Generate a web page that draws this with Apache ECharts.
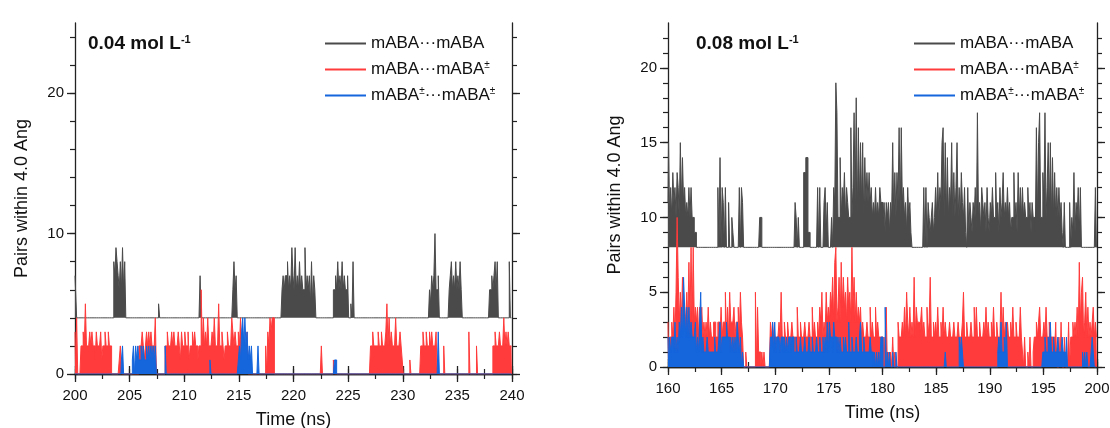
<!DOCTYPE html>
<html lang="en">
<head>
<meta charset="UTF-8">
<title>Pairs within 4.0 Ang</title>
<script src="https://cdn.jsdelivr.net/npm/echarts@6.0.0/dist/echarts.min.js"></script>
<style>
  html, body { margin: 0; background: #fff; }
  #chart { width: 1110px; height: 428px; }
</style>
</head>
<body>
<div id="chart"></div>
<script>
// frames every 0.1 ns, one character per frame, read as base 36 (a = 10, b = 11 ...)
// each string below is one nanosecond, the last one is the closing frame
const step = 0.1;

// ---- left panel, 0.04 mol/L, 200-240 ns (mABA...mABA shown shifted up by 4)
const startA = 200;
const baseA = [4, 0, 0];
const blackA = [
  "7644444444","4444444444","4444444444","4444448798","7686968444",
  "4444444444","4444444444","4444444544","4444444444","4444444444",
  "4444444444","4444474444","4444444444","4444444444","4444468674",
  "4444444444","4444444444","4444444444","4444444444","6767786769",
  "7696768676","6967675857","6444444444","4444444667","6867686766",
  "7445484444","4444444444","4444444444","4444444444","4444444444",
  "4444444444","4444444444","4444465767","a667444444","4446786768",
  "6768644444","4444444444","4444444444","6676786844","4444444484","4"
];
const redA = [
  "3040002232","5222323221","3222312232","2322000000","0120000000",
  "0000000002","2232123232","3222400000","0002232223","2322232132",
  "2322312232","3221226242","3242223242","2252232122","3222432322",
  "3242322230","0000000000","0000020324","3440000000","0000000000",
  "0000000000","0000000000","0000002000","0000000100","0000000000",
  "0000000000","0000000000","0223222232","2322235242","3222422232",
  "1000000100","0000000223","2232232322","2300000020","0000000000",
  "0000000000","0300000020","0000000000","0002232223","2224232322","2"
];
const blueA = [
  "0000000000","0000000000","0000000000","0000000000","0001200000",
  "0001202121","1212112121","2121200000","0002000000","0000000000",
  "0000000000","0000000000","0000100000","0000000000","0000000000",
  "1213424231","2120000020","0000000000","0000000000","0000000000",
  "0000000000","0000000000","0000000000","0000000011","0000000000",
  "0000000000","0000000000","0000000000","0000000000","0000000000",
  "0000000000","0000000000","0000000000","0003000000","0000000000",
  "0000000000","0000000000","0000000000","0000000000","0000000000","0"
];

// ---- right panel, 0.08 mol/L, 160-200 ns (mABA...mABA shown shifted up by 8)
const startB = 160;
const baseB = [8, 0, 0];
const blackB = [
  "bfacadbcad","cafbebcaba","cacaa99888","8888888888","8888888c8e",
  "8cb8c88b88","a988888c8c","b888888888","888888aa88","8888888888",
  "8888888888","888888888b","a8a8888dde","e998888888","c8c888bc9b",
  "888a8cbjha","aeacbdacba","agachbiagb","fbfaebdbdb","cabacabacb",
  "bab9bab9ba","fadadbgagb","cab9cab988","888888888c","8c8ba9ab9a",
  "cadacbfgaf","aeacbfadac","facadbac98","c9ba9bac9h","ab9cbab9ca",
  "9bacaadab9","cabdabacab","9aadab9dac","acabaacab9","baa9gafhaa",
  "dbhacfafae","adacacab98","b8888b8a9d","9bac9c8888","888888888c","8"
];
const redB = [
  "302232425a","6353634353","7383834342","4342323242","3223322332",
  "4233524253","3342334253","2001000000","0050411010","1000003232",
  "2222325223","2232223222","2422322232","2232242322","3243523253",
  "4354637834","6374645364","5384635343","4232223224","2322423222",
  "2020401010","2010032223","2425324232","6243323423","2242362232",
  "3242232423","2223222322","2322235223","2223224242","2322232423",
  "2232422322","2524232322","3242232224","2102001020","0122323422",
  "2324223222","2130020300","2000302232","3242735623","5242323423","2"
];
const blueB = [
  "2021221312","1324264242","4232223121","3512111211","1111211123",
  "1222232212","1212132120","1000000000","0000000000","0000002231",
  "3122212212","1212212211","2111211121","1121121112","1121121213",
  "1322132212","1211212113","1121112112","3112111112","1101010102",
  "2004010100","1001000000","0000000000","0000000000","0000000000",
  "0000000001","0000000000","0021210000","0000000000","0000000000",
  "0000000012","1311213000","0000000000","0000000000","0000000000",
  "1121121311","2111211121","1020000000","0000000101","0100012100","0"
];

const names = ['mABA\u00b7\u00b7\u00b7mABA', 'mABA\u00b7\u00b7\u00b7mABA\u00b1', 'mABA\u00b1\u00b7\u00b7\u00b7mABA\u00b1'];
const colors = ['#4a4a4a', '#ff3b3b', '#1565dc'];
const labels = ['0.04 mol L', '0.08 mol L'];

const yMajorA = [0, 10, 20];
const yMinorA = [0, 2, 4, 6, 8, 10, 12, 14, 16, 18, 20, 22, 24];
const yMajorB = [0, 5, 10, 15, 20];
const yMinorB = [0, 1, 2, 3, 4, 5, 6, 7, 8, 9, 10, 11, 12, 13, 14, 15, 16, 17, 18, 19, 20, 21, 22];

function decode(chunks, t0) {
  return chunks.join('').split('').map((c, i) => [+(t0 + i * step).toFixed(1), parseInt(c, 36)]);
}

const font = 'Liberation Sans, Arial, sans-serif';
const axisColor = '#222';

const grids = [
  { left: 75, top: 23, width: 437, height: 351, outerBoundsMode: 'none' },
  { left: 668, top: 23, width: 429, height: 344, outerBoundsMode: 'none' }
];

const xAxes = [], yAxes = [];
function addAxes(g, xmin, xmax, ymax, majors, minors) {
  const line = { show: true, lineStyle: { color: axisColor, width: 1.3 } };
  const base = { gridIndex: g, type: 'value', splitLine: { show: false } };
  const xi = xAxes.length;
  xAxes.push(Object.assign({}, base, {
    min: xmin, max: xmax, interval: 5, position: 'bottom',
    axisLine: line,
    axisTick: { length: 8, lineStyle: { color: axisColor, width: 1.3 } },
    axisLabel: { fontSize: 15, margin: 14, color: '#111', fontFamily: font },
    name: 'Time (ns)', nameLocation: 'middle', nameGap: 37,
    nameTextStyle: { fontSize: 18, color: '#111', fontFamily: font }
  }));
  xAxes.push(Object.assign({}, base, {
    min: xmin, max: xmax, interval: 2.5, position: 'bottom',
    axisLine: { show: false }, axisLabel: { show: false },
    axisTick: { length: 5, lineStyle: { color: axisColor, width: 1.2 } }
  }));
  xAxes.push(Object.assign({}, base, {
    min: xmin, max: xmax, interval: 5, position: 'top',
    axisLine: line, axisLabel: { show: false },
    axisTick: { length: 8, lineStyle: { color: axisColor, width: 1.3 } }
  }));
  xAxes.push(Object.assign({}, base, {
    min: xmin, max: xmax, interval: 2.5, position: 'top',
    axisLine: { show: false }, axisLabel: { show: false },
    axisTick: { length: 5, lineStyle: { color: axisColor, width: 1.2 } }
  }));

  const yi = yAxes.length;
  ['left', 'right'].forEach(pos => {
    yAxes.push(Object.assign({}, base, {
      min: 0, max: ymax, position: pos,
      axisLine: line,
      axisTick: { length: 8, customValues: majors, lineStyle: { color: axisColor, width: 1.3 } },
      axisLabel: pos === 'left'
        ? { customValues: majors, fontSize: 15, margin: 11, color: '#111', fontFamily: font }
        : { show: false },
      name: pos === 'left' ? 'Pairs within 4.0 Ang' : '',
      nameLocation: 'middle', nameGap: 44, nameRotate: 90,
      nameTextStyle: { fontSize: 18, color: '#111', fontFamily: font }
    }));
    yAxes.push(Object.assign({}, base, {
      min: 0, max: ymax, position: pos,
      axisLine: { show: false }, axisLabel: { show: false },
      axisTick: { length: 5, customValues: minors, lineStyle: { color: axisColor, width: 1.2 } }
    }));
  });
  return { xi, yi };
}

const axA = addAxes(0, 200, 240, 25, yMajorA, yMinorA);
const axB = addAxes(1, 160, 200, 23, yMajorB, yMinorB);

// each trace is filled down to its own baseline, as the dense frames ink the plot
function makeSeries(ax, sets, bases, t0) {
  return sets.map((s, k) => ({
    name: names[k], type: 'line', step: 'middle',
    xAxisIndex: ax.xi, yAxisIndex: ax.yi,
    data: decode(s, t0),
    symbol: 'none', silent: true, z: 2 + k,
    color: colors[k],
    lineStyle: { width: 1, color: colors[k] },
    areaStyle: { origin: bases[k], color: colors[k], opacity: 1 }
  }));
}

const series = makeSeries(axA, [blackA, redA, blueA], baseA, startA)
  .concat(makeSeries(axB, [blackB, redB, blueB], baseB, startB));

const legendText = {
  fontSize: 17, color: '#111', fontFamily: font, lineHeight: 19,
  rich: { s: { fontSize: 10, verticalAlign: 'top', lineHeight: 14, color: '#111', fontFamily: font } }
};
function legendAt(left) {
  return {
    left: left, top: 34, orient: 'vertical', itemGap: 7, padding: 0,
    itemWidth: 41, itemHeight: 2, icon: 'rect',
    data: names, textStyle: legendText, selectedMode: false,
    formatter: n => n.replace(/\u00b1/g, '{s|\u00b1}')
  };
}

const titleText = {
  fontSize: 19, fontWeight: 'bold', color: '#111', fontFamily: font,
  rich: {
    b: { fontSize: 19, fontWeight: 'bold', color: '#111', fontFamily: font },
    s: { fontSize: 11, fontWeight: 'bold', color: '#111', fontFamily: font, verticalAlign: 'top', lineHeight: 14 }
  }
};

const chart = echarts.init(document.getElementById('chart'));
chart.setOption({
  animation: false,
  backgroundColor: '#fff',
  title: [
    { text: '{b|' + labels[0] + '}{s|-1}', left: 88, top: 34, padding: 0, textStyle: titleText },
    { text: '{b|' + labels[1] + '}{s|-1}', left: 696, top: 34, padding: 0, textStyle: titleText }
  ],
  legend: [legendAt(325), legendAt(914)],
  grid: grids,
  xAxis: xAxes,
  yAxis: yAxes,
  series: series
});
</script>
</body>
</html>
